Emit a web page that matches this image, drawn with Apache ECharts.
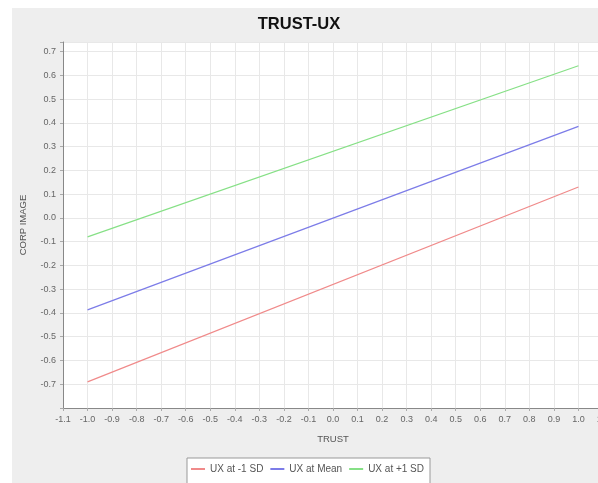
<!DOCTYPE html>
<html><head><meta charset="utf-8">
<script src="https://cdn.jsdelivr.net/npm/echarts@6/dist/echarts.min.js"></script>
<style>html,body{margin:0;padding:0;background:#fff;}#c{width:598px;height:483px;}</style>
</head><body><div id="c"></div>
<script>
var xValues = [-1.0, 1.0];
var seriesNames = ['UX at -1 SD', 'UX at Mean', 'UX at +1 SD'];
var lowSD = [-0.69, 0.13];
var meanSD = [-0.387, 0.385];
var highSD = [-0.08, 0.64];
var seriesColors = ['#f08a8a', '#7c7ce8', '#86e086'];

function pairs(ys){ return xValues.map(function(x,i){ return [x, ys[i]]; }); }
var allSeries = [lowSD, meanSD, highSD].map(function(ys, i){
  return {name: seriesNames[i], type:'line', data: pairs(ys), symbol:'none',
    lineStyle:{color: seriesColors[i], width:1.2}, itemStyle:{color: seriesColors[i]}, animation:false};
});
function fmt(v){
  var r = Math.round(v*10)/10;
  if (Math.abs(v - r) > 1e-6) return '';
  return r.toFixed(1);
}
var chart = echarts.init(document.getElementById('c'), null, {renderer:'canvas'});
chart.setOption({
  backgroundColor:'#fff',
  graphic:[{type:'rect', z:-10, shape:{x:12, y:8, width:600, height:500}, style:{fill:'#eeeeee'}}],
  title:{text:'TRUST-UX', left:'center', top:11, textStyle:{fontFamily:'Liberation Sans', fontSize:16.5, fontWeight:'bold', color:'#111'}},
  grid:{left:63, right:-5, top:42, bottom:75, show:true, backgroundColor:'#fff', borderWidth:0, outerBoundsMode:'none', containLabel:false},
  legend:{top:458, left:187, itemWidth:14, itemHeight:2, itemGap:7, icon:'rect',
    backgroundColor:'#fff', borderColor:'#999', borderWidth:1, padding:[6,6,10,4],
    textStyle:{fontFamily:'Liberation Sans', fontSize:10, color:'#555'}, data: seriesNames},
  xAxis:{type:'value', min:-1.1, max:1.1, interval:0.1, name:'TRUST', nameLocation:'middle', nameGap:26,
    nameTextStyle:{fontFamily:'Liberation Sans', fontSize:9.5, color:'#555'},
    axisLine:{show:true, onZero:false, lineStyle:{color:'#888'}},
    axisTick:{show:true, length:3, lineStyle:{color:'#aaa'}},
    axisLabel:{fontFamily:'Liberation Sans', fontSize:9, color:'#666', margin:7, formatter:fmt},
    splitLine:{show:true, lineStyle:{color:'#e8e8e8', width:1}}},
  yAxis:{type:'value', min:-0.8, max:0.74, interval:0.1, name:'CORP IMAGE', nameLocation:'middle', nameGap:35, nameRotate:90,
    nameTextStyle:{fontFamily:'Liberation Sans', fontSize:9.5, color:'#555'},
    axisLine:{show:true, onZero:false, lineStyle:{color:'#888'}},
    axisTick:{show:true, length:3, lineStyle:{color:'#aaa'}},
    axisLabel:{fontFamily:'Liberation Sans', fontSize:9, color:'#666', margin:7,
      formatter:function(v){ if (v < -0.75 || v > 0.71) return ''; return fmt(v); }},
    splitLine:{show:true, lineStyle:{color:'#e8e8e8', width:1}}},
  series: allSeries
});
</script></body></html>
